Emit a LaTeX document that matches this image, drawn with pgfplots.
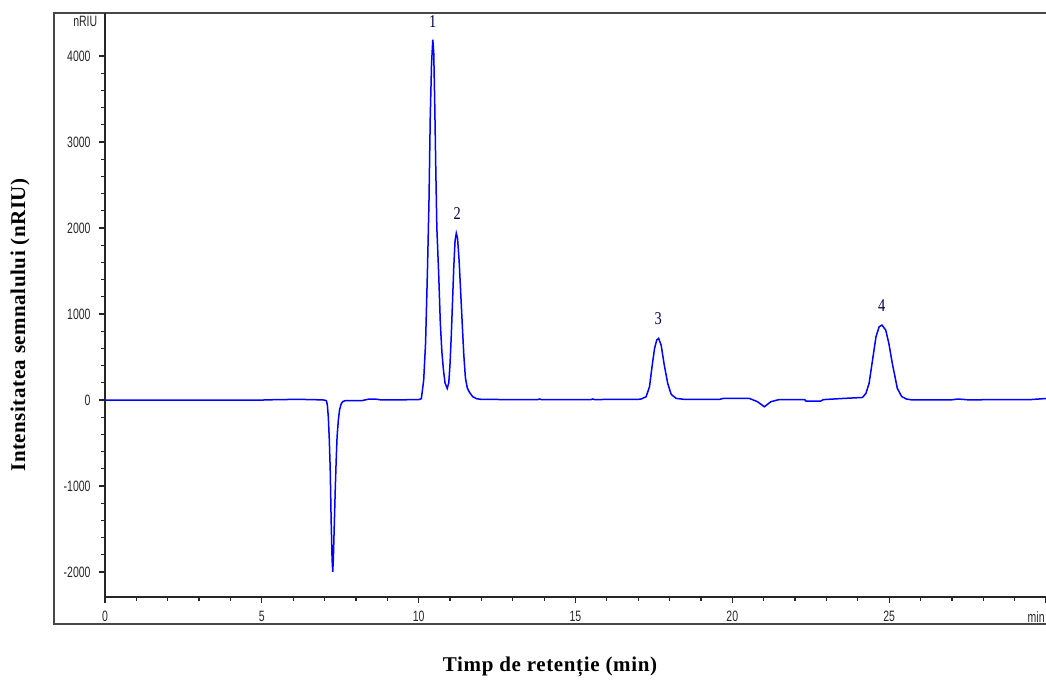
\documentclass[border=0pt]{standalone}
\usepackage{fontspec}
\setmainfont{Liberation Serif}
\newfontfamily\tickfont[FakeStretch=0.7]{Liberation Sans}
\newfontfamily\peakfont[FakeStretch=0.8]{Liberation Serif}
\newfontfamily\xlabfont[LetterSpace=3]{Liberation Serif}
\newfontfamily\ylabfont[LetterSpace=2.5]{Liberation Serif}
\usepackage{pgfplots}
\pgfplotsset{compat=1.18}

\begin{document}
\begin{tikzpicture}
\useasboundingbox (0pt,0pt) rectangle (523pt,-340.5pt);
% outer frame of the chromatogram window
\draw[line width=1pt, draw=black!72] (27pt,-6.5pt) rectangle (524pt,-312pt);
\begin{axis}[
  at={(52.5pt,-298.5pt)}, anchor=south west,
  width=470.5pt, height=292pt, scale only axis,
  axis lines=left,
  axis line style={-, line width=0.7pt, black!85},
  xmin=0, xmax=30,
  ymin=-2290, ymax=4500,
  xtick={0,5,10,15,20,25,30},
  xticklabels={0,5,10,15,20,25,{}},
  ytick={-2000,-1000,0,1000,2000,3000,4000},
  yticklabels={-2000,-1000,0,1000,2000,3000,4000},
  minor x tick num=4,
  minor y tick num=4,
  tick align=outside,
  major tick length=3.2pt,
  minor tick length=2pt,
  tick style={line width=0.6pt, black!85},
  /pgf/number format/assume math mode=true,
  tick label style={font=\tickfont\fontsize{7.5}{8}\selectfont, black!85},
  xticklabel style={yshift=-0.5pt},
  yticklabel style={xshift=-0.5pt},
]
\addplot[blue, line width=0.75pt] coordinates {
  (0,0) (5.0,0) (5.5,5) (6.2,8) (6.8,3) (7.00,0)
  (7.06,-10) (7.09,-60) (7.12,-200) (7.15,-450) (7.18,-800) (7.21,-1400)
  (7.24,-1850) (7.26,-1997) (7.28,-1850) (7.31,-1450) (7.34,-1050) (7.37,-700)
  (7.40,-420) (7.44,-230) (7.48,-110) (7.53,-45) (7.58,-18) (7.65,-8)
  (7.8,-6) (8.2,-6) (8.4,10) (8.6,12) (8.8,2) (9.5,3) (10.0,5)
  (10.085,15) (10.16,230) (10.22,660) (10.28,1500) (10.33,2330) (10.37,3300)
  (10.41,3900) (10.45,4190) (10.48,4050) (10.51,3500) (10.55,2600) (10.58,2000)
  (10.64,1450) (10.69,900) (10.74,560) (10.79,350) (10.84,200) (10.91,135)
  (10.96,200) (11.00,420) (11.04,750) (11.08,1150) (11.12,1550) (11.16,1850)
  (11.20,1940) (11.24,1880) (11.29,1620) (11.34,1250) (11.39,880) (11.44,520)
  (11.49,260) (11.55,140) (11.62,90) (11.72,40) (11.85,15) (12.0,8)
  (13.0,5) (13.8,6) (13.85,12) (13.9,6) (15.5,6) (15.55,12) (15.6,6)
  (17.0,8) (17.09,12) (17.25,38) (17.36,155) (17.44,388) (17.52,600)
  (17.59,698) (17.65,717) (17.73,640) (17.83,407) (17.94,194) (18.05,66)
  (18.21,19) (18.47,8) (19.6,8) (19.7,18) (20.55,18)
  (20.8,-19) (21.02,-78) (21.23,-19) (21.5,6)
  (22.3,6) (22.35,-12) (22.82,-12) (22.9,5) (23.5,18) (24.15,30)
  (24.26,78) (24.36,194) (24.47,465) (24.58,736) (24.68,852) (24.77,872)
  (24.89,814) (24.99,659) (25.10,426) (25.26,136) (25.40,40) (25.55,12)
  (25.7,3) (27.0,3) (27.2,12) (27.5,3) (29.5,5) (30,18)
};
\node[font=\peakfont\fontsize{9}{10}\selectfont, text=black!70!blue] at (axis cs:10.45,4400) {1};
\node[font=\peakfont\fontsize{9}{10}\selectfont, text=black!70!blue] at (axis cs:11.23,2163) {2};
\node[font=\peakfont\fontsize{9}{10}\selectfont, text=black!70!blue] at (axis cs:17.64,942) {3};
\node[font=\peakfont\fontsize{9}{10}\selectfont, text=black!70!blue] at (axis cs:24.76,1093) {4};
\end{axis}
\node[anchor=east, font=\tickfont\fontsize{7.5}{8}\selectfont, text=black!85, inner sep=0pt] at (48.8pt,-10.8pt) {nRIU};
\node[anchor=north east, font=\tickfont\fontsize{7.5}{8}\selectfont, text=black!85, inner sep=0pt] at (522.5pt,-305.8pt) {min};
\node[font=\xlabfont\bfseries\fontsize{10.5}{12}\selectfont] at (275pt,-333.5pt) {Timp de retenție (min)};
\node[rotate=90, font=\ylabfont\bfseries\fontsize{10.5}{12}\selectfont] at (10pt,-162.5pt) {Intensitatea semnalului (nRIU)};
\end{tikzpicture}
\end{document}
